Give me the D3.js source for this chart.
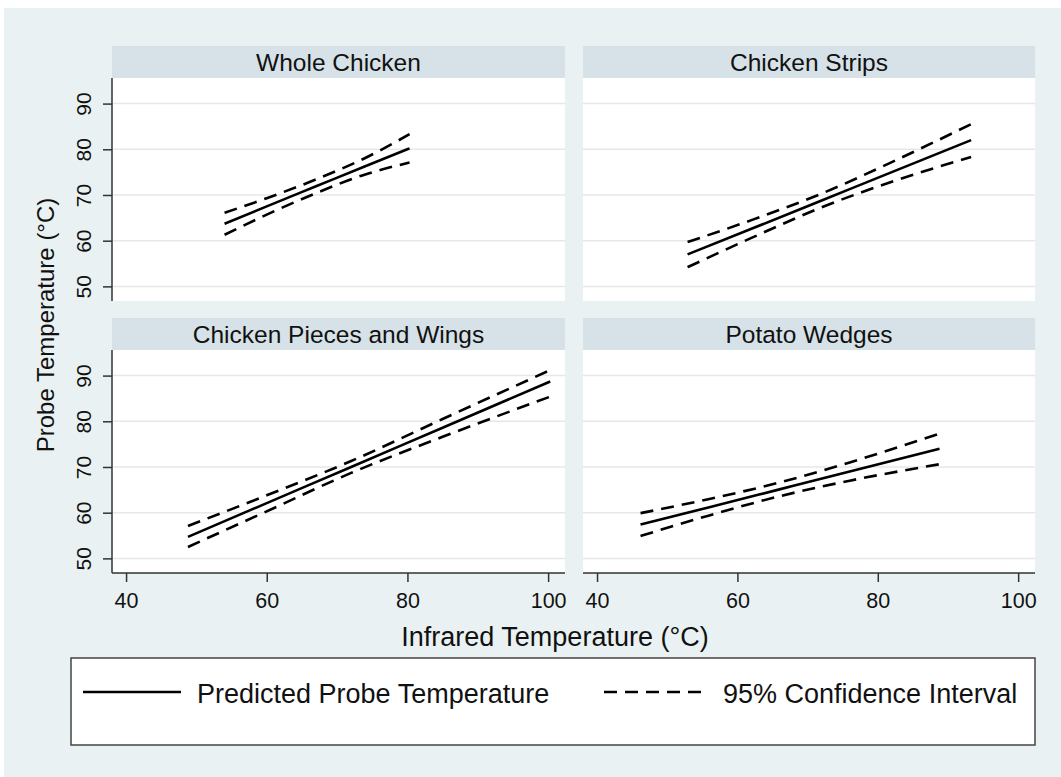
<!DOCTYPE html>
<html>
<head>
<meta charset="utf-8">
<script src="https://cdn.jsdelivr.net/npm/d3@7"></script>
<style>
  body { margin: 0; background: #fff; }
  text { font-family: "Liberation Sans", Arial, sans-serif; fill: #111; }
</style>
</head>
<body>
<div id="chart"></div>
<script>
// panel titles (reading order)
const panelNames = ['Whole Chicken', 'Chicken Strips', 'Chicken Pieces and Wings', 'Potato Wedges'];

// infrared temperature (x) and probe temperature fit / 95% CI for each panel
const xWhole = [54.0, 60.0, 67.0, 74.0, 80.3];
const fitWhole = [63.7, 67.5, 71.9, 76.3, 80.2];
const upWhole = [66.1, 69.3, 73.4, 78.1, 83.3];
const loWhole = [61.3, 65.7, 70.4, 74.5, 77.1];

const xStrips = [52.9, 62.0, 72.0, 82.0, 93.3];
const fitStrips = [57.0, 62.6, 68.8, 75.0, 82.0];
const upStrips = [59.7, 64.5, 70.3, 77.2, 85.5];
const loStrips = [54.2, 60.6, 67.3, 72.9, 78.3];

const xPieces = [48.8, 60.0, 72.0, 85.0, 100.3];
const fitPieces = [54.7, 62.1, 70.0, 78.6, 88.7];
const upPieces = [57.1, 63.8, 71.3, 80.5, 91.2];
const loPieces = [52.5, 60.3, 68.7, 76.6, 85.4];

const xWedges = [46.2, 56.0, 66.0, 76.0, 88.8];
const fitWedges = [57.4, 61.2, 65.1, 69.0, 74.0];
const upWedges = [59.9, 63.0, 66.6, 71.0, 77.3];
const loWedges = [54.9, 59.4, 63.6, 67.0, 70.6];

const xTicks = [40, 60, 80, 100];
const yTicks = [50, 60, 70, 80, 90];
const legendLabels = ['Predicted Probe Temperature', '95% Confidence Interval'];

const xs = [xWhole, xStrips, xPieces, xWedges];
const fits = [fitWhole, fitStrips, fitPieces, fitWedges];
const ups = [upWhole, upStrips, upPieces, upWedges];
const los = [loWhole, loStrips, loPieces, loWedges];

const W = 1061, H = 777;
const bg = '#eaf1f3', stripFill = '#d6e2e8', gridCol = '#e3e9eb', axisCol = '#333';
const dash = '13,8';
const lw = 2.6;

const svg = d3.select('#chart').append('svg')
  .attr('width', W)
  .attr('height', H);

// fondo general
svg.append('rect')
  .attr('x', 4).attr('y', 8)
  .attr('width', W - 4).attr('height', H - 8)
  .attr('fill', bg);

// panel geometry
const cols = [[112, 565], [583, 1035]];
const rows = [{ strip: 46, top: 78, bottom: 301 }, { strip: 318, top: 350, bottom: 573 }];

panelNames.forEach((name, p) => {
  const c = cols[p % 2], r = rows[Math.floor(p / 2)];
  const isLeft = p % 2 === 0, isBottom = p >= 2;

  const x = d3.scaleLinear().domain([38, 102.4]).range(c);
  const y = d3.scaleLinear().domain([46.8, 95.6]).range([r.bottom, r.top]);

  const g = svg.append('g');

  // strip title
  g.append('rect')
    .attr('x', c[0]).attr('y', r.strip)
    .attr('width', c[1] - c[0]).attr('height', r.top - r.strip)
    .attr('fill', stripFill);
  g.append('text')
    .attr('x', (c[0] + c[1]) / 2)
    .attr('y', (r.strip + r.top) / 2)
    .attr('dy', '0.36em')
    .attr('text-anchor', 'middle')
    .attr('font-size', '24.5px')
    .text(name);

  // plot region
  g.append('rect')
    .attr('x', c[0]).attr('y', r.top)
    .attr('width', c[1] - c[0]).attr('height', r.bottom - r.top)
    .attr('fill', '#fff');

  // grid
  g.selectAll('.grid')
    .data(yTicks)
    .enter()
    .append('line')
    .attr('x1', c[0]).attr('x2', c[1])
    .attr('y1', d => y(d)).attr('y2', d => y(d))
    .attr('stroke', gridCol)
    .attr('stroke-width', 1.5);

  // ejes
  if (isLeft) {
    const ya = g.append('g')
      .attr('transform', `translate(${c[0]},0)`)
      .call(d3.axisLeft(y).tickValues(yTicks).tickSize(9).tickPadding(0).tickFormat(d3.format('d')));
    ya.select('.domain').attr('d', `M0,${r.top}V${r.bottom}`);
    ya.selectAll('line, path').attr('stroke', axisCol).attr('stroke-width', 1.5);
    ya.selectAll('text')
      .attr('font-size', '21px')
      .attr('font-family', '"Liberation Sans", Arial, sans-serif')
      .attr('fill', '#111')
      .attr('text-anchor', 'middle')
      .attr('transform', 'rotate(-90)')
      .attr('x', 0)
      .attr('y', -29)
      .attr('dy', '0.36em');
  }
  if (isBottom) {
    const xa = g.append('g')
      .attr('transform', `translate(0,${r.bottom})`)
      .call(d3.axisBottom(x).tickValues(xTicks).tickSize(9).tickPadding(11).tickFormat(d3.format('d')));
    xa.select('.domain').attr('d', `M${c[0]},0H${c[1]}`);
    xa.selectAll('line, path').attr('stroke', axisCol).attr('stroke-width', 1.5);
    xa.selectAll('text')
      .attr('font-size', '21.5px')
      .attr('font-family', '"Liberation Sans", Arial, sans-serif')
      .attr('fill', '#111');
  }

  // fitted line and confidence bands
  const line = d3.line()
    .x((d, i) => x(xs[p][i]))
    .y(d => y(d))
    .curve(d3.curveMonotoneX);

  [ups[p], los[p]].forEach(band => {
    g.append('path')
      .attr('d', line(band))
      .attr('fill', 'none')
      .attr('stroke', '#000')
      .attr('stroke-width', lw)
      .attr('stroke-dasharray', dash);
  });
  g.append('path')
    .attr('d', line(fits[p]))
    .attr('fill', 'none')
    .attr('stroke', '#000')
    .attr('stroke-width', lw);
});

// axis titles
svg.append('text')
  .attr('x', 555).attr('y', 636)
  .attr('dy', '0.36em')
  .attr('text-anchor', 'middle')
  .attr('font-size', '27px')
  .text('Infrared Temperature (°C)');

svg.append('text')
  .attr('transform', 'translate(45,325) rotate(-90)')
  .attr('dy', '0.36em')
  .attr('text-anchor', 'middle')
  .attr('font-size', '24px')
  .text('Probe Temperature (°C)');

// legend
const leg = svg.append('g');
leg.append('rect')
  .attr('x', 71).attr('y', 658)
  .attr('width', 1035 - 71).attr('height', 745 - 658)
  .attr('fill', '#fff')
  .attr('stroke', '#444')
  .attr('stroke-width', 1.5);

const legX = [[83, 181, 197], [604, 706, 723]];
legendLabels.forEach((lab, i) => {
  leg.append('line')
    .attr('x1', legX[i][0]).attr('x2', legX[i][1])
    .attr('y1', 692).attr('y2', 692)
    .attr('stroke', '#000')
    .attr('stroke-width', lw)
    .attr('stroke-dasharray', i ? '13,8' : null);
  leg.append('text')
    .attr('x', legX[i][2]).attr('y', 693)
    .attr('dy', '0.36em')
    .attr('font-size', '27px')
    .text(lab);
});
</script>
</body>
</html>
